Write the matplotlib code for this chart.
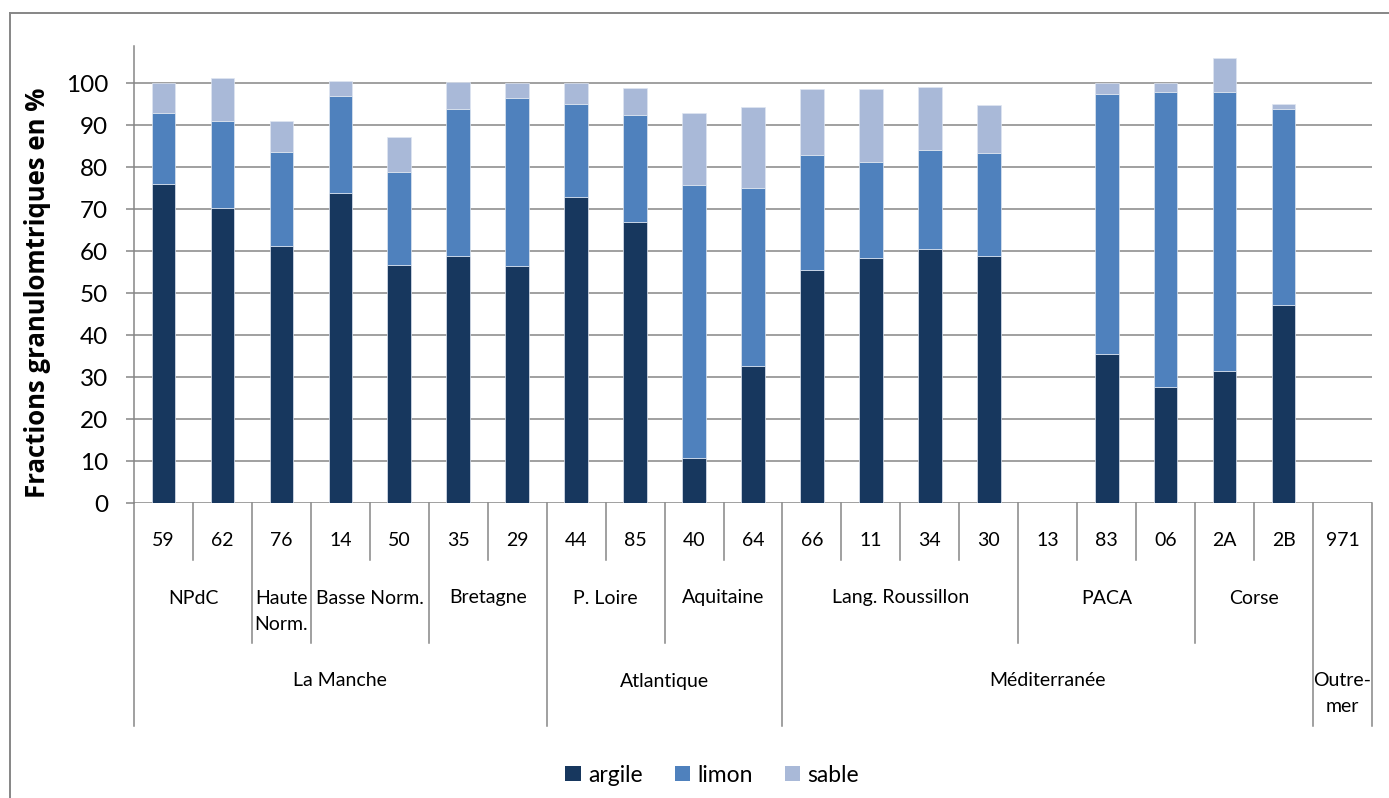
import numpy as np
import matplotlib
matplotlib.use("Agg")
import matplotlib.pyplot as plt
from matplotlib.lines import Line2D
from matplotlib.patches import Patch
from matplotlib.transforms import blended_transform_factory

plt.rcParams['font.family'] = ['Lato', 'DejaVu Sans']

# Département codes (first level of the category axis)
codes = ["59", "62", "76", "14", "50", "35", "29", "44", "85", "40", "64",
         "66", "11", "34", "30", "13", "83", "06", "2A", "2B", "971"]

# Regions (second level) and number of départements in each
regions = ["NPdC", "Haute\nNorm.", "Basse Norm.", "Bretagne", "P. Loire",
           "Aquitaine", "Lang. Roussillon", "PACA", "Corse", ""]
region_sizes = [2, 1, 2, 2, 2, 2, 4, 3, 2, 1]

# Sea fronts (third level) and number of départements in each
fronts = ["La Manche", "Atlantique", "Méditerranée", "Outre-\nmer"]
front_sizes = [7, 4, 9, 1]

# Grain-size fractions in % (stacked)
argile = [76.0, 70.4, 61.3, 74.0, 56.7, 59.0, 56.6, 72.9, 67.0, 10.7, 32.8,
          55.5, 58.5, 60.6, 59.0, np.nan, 35.5, 27.8, 31.4, 47.1, np.nan]
limon = [16.9, 20.6, 22.3, 23.0, 22.3, 34.9, 40.0, 22.2, 25.5, 65.1, 42.3,
         27.4, 22.8, 23.5, 24.4, np.nan, 62.0, 70.1, 66.6, 46.9, np.nan]
sable = [7.1, 10.3, 7.5, 3.5, 8.1, 6.4, 3.5, 4.9, 6.4, 17.2, 19.3,
         15.8, 17.3, 15.0, 11.4, np.nan, 2.5, 2.1, 8.0, 1.0, np.nan]

series_names = ["argile", "limon", "sable"]
colors = ["#17375E", "#4F81BD", "#A9B9D8"]

W, H = 1389, 798
fig = plt.figure(figsize=(W / 100, H / 100), dpi=100)

# plot area in pixel coordinates
x_left, x_right = 134, 1372
y_top, y_zero = 46, 503.3
ax = fig.add_axes([x_left / W, 1 - y_zero / H, (x_right - x_left) / W, (y_zero - y_top) / H])

grid_col = "#868686"
x = np.arange(len(codes))
a = np.array(argile)
l = np.array(limon)
s = np.array(sable)
edge = dict(edgecolor="#dfe6f1", linewidth=0.5, zorder=3)
ax.bar(x, a, width=0.4, color=colors[0], **edge)
ax.bar(x, l, width=0.4, bottom=a, color=colors[1], **edge)
ax.bar(x, s, width=0.4, bottom=a + l, color=colors[2], **edge)

ax.set_xlim(-0.5, len(codes) - 0.5)
ax.set_ylim(0, (y_zero - y_top) / 4.2)
ax.set_yticks(np.arange(0, 101, 10))
ax.yaxis.grid(True, color=grid_col, linewidth=1.1, zorder=0)
ax.set_axisbelow(True)
ax.tick_params(axis='y', direction='out', length=5.5, width=1.1, color=grid_col,
               labelsize=17.5, pad=13)
ax.tick_params(axis='x', bottom=False, labelbottom=False)
for side in ["top", "right", "bottom"]:
    ax.spines[side].set_visible(False)
ax.spines["left"].set_color(grid_col)
ax.spines["left"].set_linewidth(1.1)

# Multi-level category axis drawn below the plot area
tr = blended_transform_factory(ax.transData, fig.transFigure)

def fy(p):
    return 1 - p / H

n = len(codes)
level2_bounds = set(np.cumsum([0] + region_sizes))
level3_bounds = set(np.cumsum([0] + front_sizes))
for b in range(n + 1):
    if b in level3_bounds:
        bottom = 726
    elif b in level2_bounds:
        bottom = 643
    else:
        bottom = 560
    ax.add_line(Line2D([b - 0.5, b - 0.5], [fy(y_zero), fy(bottom)], transform=tr,
                       color=grid_col, linewidth=1.1, clip_on=False))

for i, c in enumerate(codes):
    ax.text(i, fy(540), c, transform=tr, ha='center', va='center', fontsize=14)

def group_labels(names, sizes, y_first, step=26, size=14):
    start = 0
    for name, k in zip(names, sizes):
        xc = start + (k - 1) / 2
        for j, line in enumerate(name.split("\n")):
            if line:
                ax.text(xc, fy(y_first + j * step), line, transform=tr,
                        ha='center', va='center', fontsize=size)
        start += k

group_labels(regions, region_sizes, 598)
group_labels(fronts, front_sizes, 681)

# axis title
fig.text(38 / W, 1 - 293 / H, "Fractions granulomtriques en %", rotation=90,
         ha='center', va='center', fontsize=18.5, fontweight='bold',
         family=['Open Sans', 'DejaVu Sans'])

# legend
handles = [Patch(facecolor=c, edgecolor='none', label=nm) for c, nm in zip(colors, series_names)]
fig.legend(handles=handles, loc='center', bbox_to_anchor=(712 / W, 1 - 775 / H),
           ncol=3, frameon=False, fontsize=16.5, handlelength=0.68, handleheight=0.68,
           handletextpad=0.3, columnspacing=1.4)

# outer chart border
fig.add_artist(Line2D([10 / W, 1], [fy(13), fy(13)], transform=fig.transFigure,
                      color=grid_col, linewidth=1.4))
fig.add_artist(Line2D([10 / W, 10 / W], [fy(13), 0], transform=fig.transFigure,
                      color=grid_col, linewidth=1.4))

fig.savefig("out.png", dpi=100)
